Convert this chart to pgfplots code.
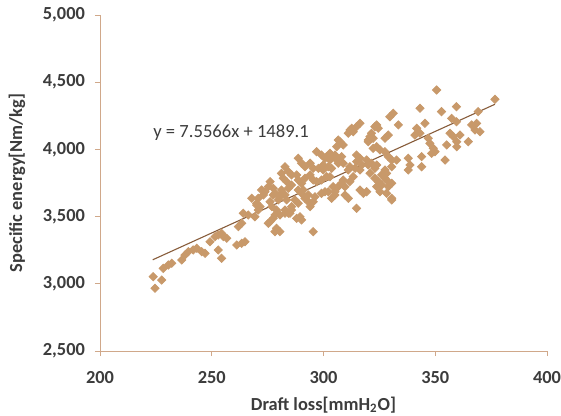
\documentclass[border=0pt]{standalone}
\usepackage{fontspec}
\setmainfont{Carlito}
\usepackage{pgfplots}
\pgfplotsset{compat=1.18}
\usetikzlibrary{calc}

\definecolor{axisline}{RGB}{208,168,138}
\definecolor{dots}{RGB}{200,153,106}
\definecolor{trend}{RGB}{135,92,58}
\definecolor{labeltext}{RGB}{60,60,60}

\pgfplotstableread{
x y
223.8 3053
227.6 3028
224.6 2967
228.3 3115
230.6 3140
232.1 3153
236.6 3177
238.0 3214
239.5 3239
241.7 3252
243.3 3264
245.5 3239
247.0 3227
249.2 3313
251.5 3351
252.9 3363
255.2 3351
256.7 3339
254.4 3376
252.9 3252
254.4 3190
261.2 3289
263.4 3301
264.9 3313
261.9 3425
263.4 3450
275.3 3450
278.3 3388
267.9 3636
270.1 3599
271.6 3574
273.8 3685
277.5 3661
276.1 3611
281.2 3673
283.5 3624
264.1 3525
266.3 3512
269.3 3499
276.1 3462
278.3 3512
280.5 3512
282.8 3525
280.5 3388
296.9 3983
299.1 3958
300.7 3934
288.7 3934
290.2 3897
291.7 3871
294.0 3897
295.4 3859
297.7 3859
299.9 3884
282.8 3871
284.3 3834
285.7 3810
281.2 3822
282.0 3785
283.5 3760
288.0 3810
288.7 3772
290.2 3748
291.7 3785
294.0 3810
295.4 3772
296.9 3760
299.1 3772
301.4 3797
276.1 3760
275.3 3723
277.5 3711
278.3 3673
272.3 3698
273.1 3661
270.8 3636
281.2 3698
280.5 3648
279.8 3624
282.8 3661
284.3 3711
285.7 3735
288.7 3698
290.2 3673
291.7 3636
293.2 3611
294.0 3574
287.2 3624
288.7 3599
285.7 3574
296.2 3648
299.1 3673
300.7 3685
276.9 3574
279.0 3549
277.5 3487
284.3 3525
285.7 3549
289.5 3499
290.2 3475
279.0 3413
295.4 3388
270.1 3586
270.8 3549
329.7 4243
331.2 4269
323.0 4169
324.5 4157
312.6 4157
311.1 4120
313.3 4132
320.8 4095
322.2 4083
320.0 4057
307.4 4057
308.8 4033
305.9 4020
302.9 3971
305.1 3958
303.6 3934
305.9 3921
308.1 3946
308.8 3897
314.8 3958
316.3 3934
323.8 4020
325.3 3996
327.5 3983
329.0 3946
330.5 3921
319.3 3921
321.5 3897
323.8 3884
323.0 3859
311.8 3871
314.1 3859
316.3 3847
313.3 3797
320.8 3822
323.0 3785
324.5 3760
326.0 3735
328.2 3772
330.5 3748
308.8 3772
311.8 3760
309.6 3723
316.3 3698
317.8 3673
328.2 3673
330.5 3636
314.8 3562
323.8 3723
325.3 3685
304.3 3723
305.1 3685
299.9 3847
302.9 3797
282.8 3549
285.0 3525
288.0 3487
290.9 3698
293.2 3661
295.4 3611
350.6 4442
376.7 4373
343.2 4306
333.5 4182
352.8 4281
359.5 4318
357.3 4231
359.5 4206
369.2 4281
368.5 4194
366.3 4182
367.8 4144
370.0 4132
345.4 4194
341.7 4157
343.2 4120
340.9 4107
346.9 4083
347.6 4045
349.1 4008
349.9 3983
348.4 3971
356.6 4120
358.1 4095
361.1 4107
359.6 4057
355.1 4033
359.6 4020
364.8 4057
354.4 3921
343.9 3946
337.9 3934
338.7 3884
337.9 3847
343.9 3871
332.7 3921
330.5 3871
327.5 3847
328.2 3822
329.0 3723
330.5 3624
316.3 4194
314.8 4169
311.9 4144
323.8 4182
321.5 4120
320.0 4070
306.6 4070
322.2 4008
327.5 4083
329.0 4107
301.4 3946
302.9 3921
306.6 3897
302.1 3871
303.6 3859
314.8 3909
317.1 3884
311.1 3847
320.0 3884
326.0 3810
327.5 3785
308.1 3748
306.6 3723
302.1 3685
305.1 3661
303.6 3636
319.3 3685
309.6 3661
311.1 3636
}\energydata

\begin{document}
\begin{tikzpicture}
\begin{axis}[
  scale only axis,
  width=223.5bp,
  height=168bp,
  xmin=200, xmax=400,
  ymin=2500, ymax=5000,
  xtick={200,250,...,400},
  ytick={2500,3000,...,5000},
  axis lines=left,
  axis line style={-, draw=axisline, line width=0.5bp},
  tick style={draw=axisline, line width=0.5bp},
  major tick length=2.5bp,
  tick align=outside,
  /pgf/number format/assume math mode=true,
  /pgf/number format/1000 sep={,},
  ticklabel style={font=\fontsize{9.2bp}{11bp}\selectfont\bfseries, text=labeltext},
  xticklabel style={yshift=-4bp},
  yticklabel style={xshift=-1.5bp},
  xlabel={Draft loss[mmH\textsubscript{2}O]},
  ylabel={Specific energy[Nm/kg]},
  label style={font=\fontsize{9.2bp}{11bp}\selectfont\bfseries, text=labeltext},
  xlabel style={at={(axis description cs:0.5,-0.16)}, anchor=center},
  ylabel style={at={(axis description cs:-0.186,0.5)}, anchor=center},
  clip=false,
]
\addplot[only marks, mark=square*, mark size=1.45bp,
  mark options={rotate=45, fill=dots, draw=dots}]
  table[x=x, y=y] {\energydata};
\addplot[trend, line width=0.55bp] coordinates {(223.6,3178.8) (376.7,4335.7)};
\node[anchor=west, inner sep=0pt, text=labeltext,
  font=\fontsize{9.3bp}{11bp}\selectfont] at (axis cs:223.7,4122) {y = 7.5566x + 1489.1};
\end{axis}
\pgfresetboundingbox
\path[use as bounding box] ($(current axis.south west)+(-50bp,-32.5bp)$) rectangle ($(current axis.north east)+(7bp,7.5bp)$);
\end{tikzpicture}
\end{document}
